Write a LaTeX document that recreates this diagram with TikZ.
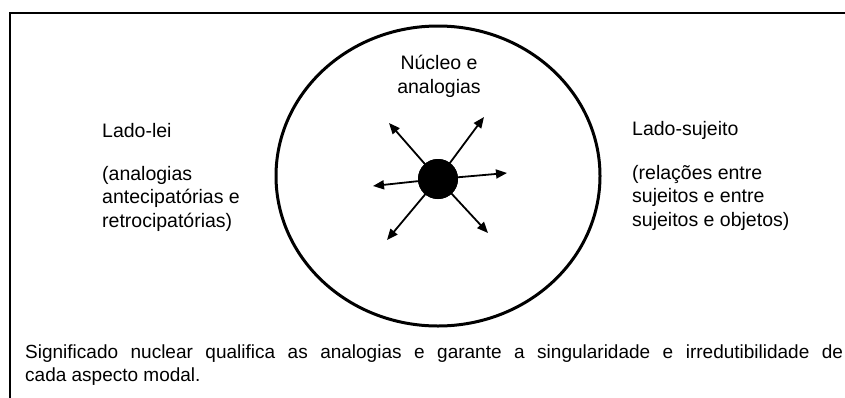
\documentclass[tikz,border=0pt]{standalone}
\usepackage{fontspec}
\setmainfont{Liberation Sans}
\usetikzlibrary{arrows.meta,shapes.geometric}
\begin{document}
\begin{tikzpicture}[x=1pt,y=-1pt,
  lbl/.style={anchor=base west,inner sep=0pt,font=\fontsize{19.5}{23.3}\selectfont,align=left},
  btm/.style={anchor=base west,inner sep=0pt,font=\fontsize{19}{23}\selectfont},
  ray/.style={line width=1.8pt,-{Triangle[length=11pt,width=9pt]}},
  ]
\useasboundingbox (0,0) rectangle (845,397);
\clip (0,0) rectangle (845,397);
\fill[white] (0,0) rectangle (845,397);
\draw[line width=2pt] (9.5,12.5) rectangle (900,450);
% ellipse
\node[draw,line width=3pt,ellipse,minimum width=324pt,minimum height=300pt,inner sep=0pt] (ell) at (438,176) {};
% center dot
\node[circle,fill=black,minimum size=40pt,inner sep=0pt] (c) at (438,179) {};
\coordinate (tul) at (389,123);
\coordinate (tur) at (484,117);
\coordinate (tr) at (507,173);
\coordinate (tl) at (373,186);
\coordinate (tll) at (387,240);
\coordinate (tlr) at (488,233);
\foreach \t in {tul,tur,tr,tl,tll,tlr} \draw[ray] (c.center) -- (\t);
\node[circle,fill=black,minimum size=40pt,inner sep=0pt] at (c) {};
% texts (base anchor of a multi-line node = last line)
\node[lbl,anchor=base,align=center] (nuc) at (439,93) {Núcleo e\\analogias};
\node[lbl] (ll) at (102,137) {Lado-lei};
\node[lbl] (llp) at (102,227) {(analogias\\antecipatórias e\\retrocipatórias)};
\node[lbl] (ls) at (632,135) {Lado-sujeito};
\node[lbl] (lsp) at (632,226) {(relações entre\\sujeitos e entre\\sujeitos e objetos)};
\node[btm] (b1) at (25,358) {\makebox[818pt][s]{Significado nuclear qualifica as analogias e garante a singularidade e irredutibilidade de}};
\node[btm] (b2) at (25,381) {cada aspecto modal.};
\end{tikzpicture}
\end{document}
